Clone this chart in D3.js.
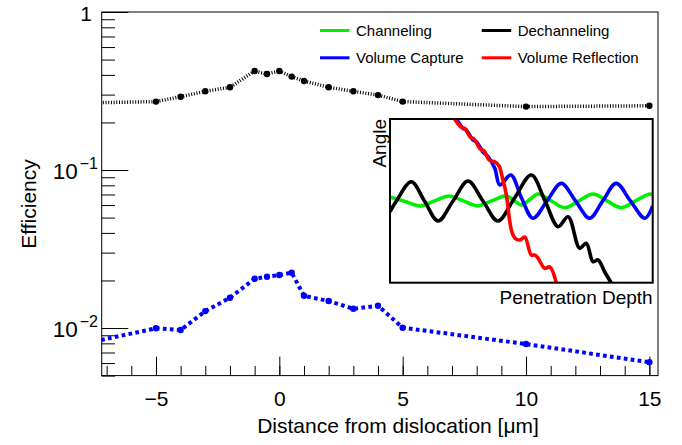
<!DOCTYPE html>
<html>
<head>
<meta charset="utf-8">
<script src="https://cdn.jsdelivr.net/npm/d3@7"></script>
<style>
  body { margin: 0; background: #fff; }
  text { font-family: "Liberation Sans", Arial, sans-serif; fill: #000; }
</style>
</head>
<body>
<svg id="chart" width="682" height="445"></svg>
<script>
// main panel data
const distance = [-10, -5, -4, -3, -2, -1, -0.5, 0, 0.5, 1, 2, 3, 4, 5, 10, 15];
const effUpper = [0.262, 0.271, 0.291, 0.315, 0.334, 0.423, 0.405, 0.423, 0.390, 0.366, 0.334, 0.315, 0.298, 0.271, 0.252, 0.255];
const effLower = [0.0068, 0.00996, 0.00971, 0.0128, 0.01555, 0.0205, 0.0211, 0.02165, 0.0224, 0.0160, 0.01482, 0.01324, 0.01384, 0.01005, 0.00792, 0.00607];

const xMajorTicks = [-5, 0, 5, 10, 15];
const yMajorTicks = [1, 0.1, 0.01];
const yTickLabels = [['1', ''], ['10', '\u22121'], ['10', '\u22122']];

// inset sketch: [depth, angle], both in 0..100 units
const insetChanneling = [[0, 52.3], [5.8, 49.6], [11.6, 46.9], [17, 50], [22.5, 53], [27.9, 50], [33.3, 46.9], [38.7, 50], [44.2, 53], [47.2, 50.2], [50.2, 47.5], [53.2, 50.8], [56.3, 54.2], [61.4, 50], [66.5, 45.8], [71.9, 50], [77.3, 54.2], [82.6, 50], [88, 45.8], [93.4, 50], [98.9, 54.2], [100, 53.6]];
const insetDechanneling = [[0, 43.4], [2.5, 50], [8.1, 61.7], [13.2, 49.7], [18.3, 37.7], [24, 49.9], [29.7, 62.1], [35.4, 49.9], [41.1, 37.7], [47.4, 51.7], [53.8, 65.8], [59, 50], [64, 34.2], [67.8, 40.3], [72.2, 21], [74.7, 24.1], [77.3, 12.8], [79.2, 13.9], [81.7, 6.7], [84.2, 0]];
const insetCapture = [[25.3, 100], [27.8, 94.3], [29, 93.3], [31.6, 87.2], [32.9, 86.1], [35.4, 80], [37.3, 77], [39.9, 69.9], [41.8, 59.7], [46, 65.8], [50, 52], [54.4, 39.4], [59.8, 50], [65.2, 60.7], [70.6, 50], [76, 39.4], [81, 50], [86.1, 60.7], [91.5, 50], [97, 39.4], [100, 46.9]];
const insetReflection = [[24.6, 100], [27, 95.1], [28.5, 94.2], [30.5, 89], [32, 87.8], [34.3, 81.7], [35.8, 80.5], [37.7, 75], [39.9, 73.9], [41.5, 71.3], [43, 62.7], [44.3, 53.6], [45.6, 37.3], [46.4, 31], [47.6, 27.1], [49.5, 26.1], [51.3, 27.9], [53.8, 16.9], [55.2, 16.9], [56.3, 15.1], [58.9, 8.8], [60.8, 9.6], [63.3, 0]];

const legendItems = [
  { label: 'Channeling', color: '#00ee00', col: 0, row: 0 },
  { label: 'Dechanneling', color: '#000', col: 1, row: 0 },
  { label: 'Volume Capture', color: '#0000ff', col: 0, row: 1 },
  { label: 'Volume Reflection', color: '#ff0000', col: 1, row: 1 },
];

const svg = d3.select('#chart');
const frame = { left: 101.7, right: 658, top: 12, bottom: 375.6 };

const x = d3.scaleLinear().domain([-7.2, 15.35]).range([frame.left, frame.right]);
const y = d3.scaleLog().domain([0.005, 1]).range([frame.bottom, frame.top]);

svg.append('clipPath').attr('id', 'frameClip')
  .append('rect')
  .attr('x', frame.left).attr('y', frame.top)
  .attr('width', frame.right - frame.left).attr('height', frame.bottom - frame.top);

// axes: ticks point inward, labels drawn by hand for the log side
const xMinor = d3.range(-7, 16);
svg.append('g').attr('transform', `translate(0,${frame.bottom})`)
  .call(d3.axisBottom(x).tickValues(xMinor).tickSize(-9.7).tickFormat(''))
  .call(g => g.select('.domain').remove());
svg.append('g').attr('class', 'xmajor').attr('transform', `translate(0,${frame.bottom})`)
  .call(d3.axisBottom(x).tickValues(xMajorTicks).tickSize(-19).tickPadding(15.5)
    .tickFormat(d => (d < 0 ? '\u2212' + Math.abs(d) : d)))
  .call(g => g.select('.domain').remove())
  .call(g => g.selectAll('text').attr('font-size', 21).attr('font-family', null));

const yMinor = [];
[0.001, 0.01, 0.1].forEach(dec => d3.range(2, 10).forEach(m => {
  const v = +(dec * m).toPrecision(3);
  if (v >= 0.005 && v < 1) yMinor.push(v);
}));
svg.append('g').attr('transform', `translate(${frame.left},0)`)
  .call(d3.axisLeft(y).tickValues(yMinor).tickSize(-13.3).tickFormat(''))
  .call(g => g.select('.domain').remove());
svg.append('g').attr('transform', `translate(${frame.left},0)`)
  .call(d3.axisLeft(y).tickValues(yMajorTicks).tickSize(-26.6).tickFormat(''))
  .call(g => g.select('.domain').remove());
svg.selectAll('.tick line').attr('stroke', '#000').attr('stroke-width', 1);

yMajorTicks.forEach((v, i) => {
  const t = svg.append('text')
    .attr('x', i === 0 ? 92 : 98).attr('y', y(v) + 9)
    .attr('text-anchor', 'end').attr('font-size', i === 0 ? 21 : 22.5)
    .text(yTickLabels[i][0]);
  if (yTickLabels[i][1]) {
    t.append('tspan').attr('font-size', 16).attr('dx', 2).attr('dy', -10).text(yTickLabels[i][1]);
  }
});

// frame
svg.append('rect')
  .attr('x', frame.left).attr('y', frame.top)
  .attr('width', frame.right - frame.left).attr('height', frame.bottom - frame.top)
  .attr('fill', 'none').attr('stroke', '#000').attr('stroke-width', 1);

// axis titles
svg.append('text')
  .attr('x', 398).attr('y', 433)
  .attr('text-anchor', 'middle').attr('font-size', 21)
  .text('Distance from dislocation [\u03bcm]');
svg.append('text')
  .attr('transform', 'translate(36,204) rotate(-90)')
  .attr('text-anchor', 'middle').attr('font-size', 21)
  .text('Efficiency');

// main series
const line = d3.line().x((d, i) => x(distance[i])).y(d => y(d));
const plot = svg.append('g').attr('clip-path', 'url(#frameClip)');

plot.append('path').datum(effUpper)
  .attr('d', line).attr('fill', 'none')
  .attr('stroke', '#000').attr('stroke-width', 3.5).attr('stroke-dasharray', '1,1.7');
plot.selectAll('.dotUpper').data(effUpper).enter().append('circle')
  .attr('cx', (d, i) => x(distance[i])).attr('cy', d => y(d)).attr('r', 3.2).attr('fill', '#000');

plot.append('path').datum(effLower)
  .attr('d', line).attr('fill', 'none')
  .attr('stroke', '#0000ff').attr('stroke-width', 4).attr('stroke-dasharray', '3.7,3.3');
plot.selectAll('.dotLower').data(effLower).enter().append('circle')
  .attr('cx', (d, i) => x(distance[i])).attr('cy', d => y(d)).attr('r', 3.2).attr('fill', '#0000ff');

// legend
const legend = svg.append('g');
legendItems.forEach(d => {
  const lx = d.col === 0 ? 320 : 481.7;
  const ly = d.row === 0 ? 30.5 : 57.8;
  legend.append('line')
    .attr('x1', lx).attr('x2', lx + 29.5).attr('y1', ly).attr('y2', ly)
    .attr('stroke', d.color).attr('stroke-width', 3);
  legend.append('text')
    .attr('x', lx + 36).attr('y', ly + 5.5).attr('font-size', 15)
    .text(d.label);
});

// inset
const inset = { left: 390, right: 652.7, top: 119, bottom: 282.7 };
const ix = d3.scaleLinear().domain([0, 100]).range([inset.left, inset.right]);
const iy = d3.scaleLinear().domain([0, 100]).range([inset.bottom, inset.top]);

svg.append('rect')
  .attr('x', inset.left).attr('y', inset.top)
  .attr('width', inset.right - inset.left).attr('height', inset.bottom - inset.top)
  .attr('fill', '#fff');

svg.append('clipPath').attr('id', 'insetClip')
  .append('rect')
  .attr('x', inset.left).attr('y', inset.top)
  .attr('width', inset.right - inset.left).attr('height', inset.bottom - inset.top);

const iline = d3.line().x(d => ix(d[0])).y(d => iy(d[1])).curve(d3.curveCatmullRom.alpha(0.5));
const insetG = svg.append('g').attr('clip-path', 'url(#insetClip)');
[[insetChanneling, '#00ee00'], [insetCapture, '#0000ff'], [insetDechanneling, '#000'], [insetReflection, '#ff0000']]
  .forEach(([pts, c]) => {
    insetG.append('path').datum(pts)
      .attr('d', iline).attr('fill', 'none')
      .attr('stroke', c).attr('stroke-width', 3.6)
      .attr('stroke-linejoin', 'round');
  });

svg.append('rect')
  .attr('x', inset.left).attr('y', inset.top)
  .attr('width', inset.right - inset.left).attr('height', inset.bottom - inset.top)
  .attr('fill', 'none').attr('stroke', '#000').attr('stroke-width', 2);

svg.append('text')
  .attr('transform', `translate(386,${inset.top}) rotate(-90)`)
  .attr('text-anchor', 'end').attr('font-size', 19)
  .text('Angle');
svg.append('text')
  .attr('x', inset.right).attr('y', 304)
  .attr('text-anchor', 'end').attr('font-size', 19)
  .text('Penetration Depth');
</script>
</body>
</html>
